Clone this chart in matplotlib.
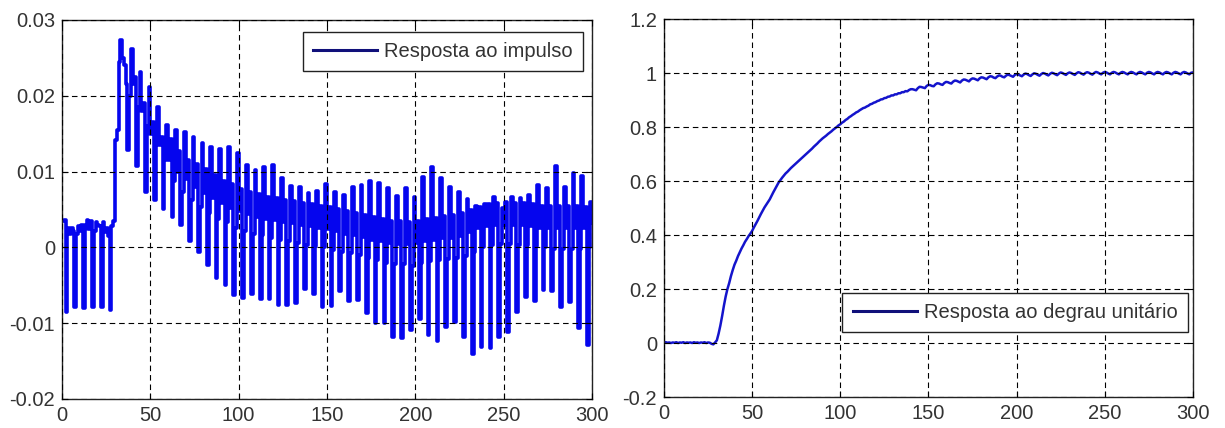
import numpy as np
import matplotlib
matplotlib.use("Agg")
import matplotlib.pyplot as plt

# sample index n = 0..300
n = np.arange(301)

# impulse response, in units of 1e-4
impulse_e4 = [
    35, 36, -85, 25, 18,   26, 22, -78, 18, 28,
    22, 30, -80, 29, 36,   24, 35, -78, 22, 33,
    30, 28, -79, 33, 20,   26, 15, -82, 28, 35,
    142, 155, 245, 273, 250,   240, 215, 128, 200, 262,
    215, 225, 108, 185, 232,   180, 190, 73, 160, 212,
    150, 165, 62, 135, 185,   135, 145, 50, 115, 162,
    115, 143, 40, 88, 155,   100, 127, 29, 73, 152,
    90, 115, 9, 63, 146,   80, 110, -6, 53, 138,
    72, 103, -23, 46, 133,   65, 95, -41, 38, 130,
    58, 87, -50, 33, 133,   52, 83, -63, 26, 124,
    48, 77, -67, 21, 109,   44, 73, -61, 18, 102,
    40, 70, -68, 16, 106,   38, 67, -68, 13, 109,
    36, 65, -76, 10, 91,   34, 63, -76, 8, 81,
    32, 61, -73, 6, 80,   30, 59, -55, 3, 72,
    28, 57, -62, 2, 75,   26, 55, -79, 0, 83,
    24, 53, -77, -4, 73,   22, 51, -58, -6, 69,
    18, 48, -71, -8, 80,   16, 45, -70, -10, 82,
    14, 43, -86, -14, 87,   10, 40, -100, -17, 85,
    8, 37, -100, -20, 79,   6, 35, -118, -22, 68,
    5, 35, -120, -22, 78,   5, 33, -109, -24, 66,
    6, 35, -95, -20, 93,   8, 37, -116, -18, 106,
    10, 39, -124, -17, 91,   12, 41, -105, -15, 80,
    13, 43, -98, -14, 73,   15, 45, -118, -12, 64,
    20, 49, -140, -6, 55,   25, 53, -131, 0, 57,
    28, 57, -133, 3, 66,   30, 59, -118, 4, 52,
    30, 60, -111, 4, 67,   30, 59, -85, 3, 65,
    30, 59, -65, 3, 69,   28, 57, -71, 2, 82,
    25, 55, -56, 0, 78,   25, 55, -58, -2, 107,
    25, 55, -78, -2, 80,   25, 55, -72, -2, 98,
    25, 55, -107, -2, 94,   25, 53, -129, 0, 60,
    32,
]

# unit step response, in units of 1e-3
step_e3 = [
    2, 3, 1, 2, 0, 2, 1, 3, 0, 2,
    1, 3, 0, 2, 1, 2, 0, 3, 1, 2,
    0, 2, 1, 3, 0, 2, 1, -3, -5, 2,
    10, 35, 65, 100, 138, 172, 200, 222, 248, 270,
    290, 305, 322, 336, 350, 362, 375, 385, 396, 405,
    415, 428, 440, 452, 465, 478, 490, 502, 512, 522,
    532, 545, 558, 570, 582, 594, 603, 612, 620, 628,
    634, 641, 648, 654, 660, 666, 672, 678, 684, 690,
    696, 702, 708, 714, 720, 727, 733, 739, 746, 752,
    758, 763, 768, 774, 779, 784, 790, 795, 800, 806,
    810, 816, 820, 826, 830, 836, 840, 845, 849, 854,
    857, 862, 866, 870, 872, 876, 879, 884, 886, 890,
    892, 896, 898, 902, 903, 907, 908, 912, 913, 917,
    917, 921, 921, 925, 925, 929, 929, 933, 932, 937,
    940, 940, 938, 936, 944, 949, 948, 946, 944, 952,
    956, 955, 952, 951, 958, 962, 961, 958, 956, 963,
    967, 966, 963, 961, 968, 972, 971, 968, 965, 972,
    976, 975, 972, 969, 976, 980, 979, 976, 973, 980,
    984, 983, 980, 977, 984, 988, 987, 983, 981, 987,
    991, 990, 986, 984, 990, 994, 992, 989, 986, 993,
    996, 994, 991, 988, 994, 998, 996, 992, 989, 995,
    999, 997, 993, 990, 996, 1000, 998, 994, 991, 997,
    1001, 999, 995, 992, 998, 1002, 1000, 996, 993, 999,
    1002, 1000, 996, 993, 999, 1003, 1001, 997, 994, 1000,
    1003, 1001, 997, 994, 1000, 1004, 1002, 998, 995, 1001,
    1004, 1002, 998, 995, 1001, 1004, 1002, 998, 995, 1001,
    1004, 1002, 998, 995, 1001, 1004, 1002, 998, 995, 1001,
    1004, 1002, 998, 995, 1001, 1004, 1002, 998, 995, 1001,
    1004, 1002, 998, 995, 1001, 1004, 1002, 998, 995, 1001,
    1004, 1002, 998, 995, 1001, 1004, 1002, 998, 995, 1001,
    1002,
]

impulse = np.array(impulse_e4) * 1e-4
step = np.array(step_e3) * 1e-3

xticks = [0, 50, 100, 150, 200, 250, 300]
yticks_imp = [-0.02, -0.01, 0, 0.01, 0.02, 0.03]
ylabels_imp = ["-0.02", "-0.01", "0", "0.01", "0.02", "0.03"]
yticks_step = [-0.2, 0, 0.2, 0.4, 0.6, 0.8, 1, 1.2]
ylabels_step = ["-0.2", "0", "0.2", "0.4", "0.6", "0.8", "1", "1.2"]

plt.rcParams['font.family'] = ['Liberation Sans', 'DejaVu Sans']
plt.rcParams['axes.unicode_minus'] = False

fig = plt.figure(figsize=(12.25, 4.28), dpi=100)
ax1 = fig.add_axes([0.0506, 0.0678, 0.4327, 0.8855])
ax2 = fig.add_axes([0.5420, 0.0724, 0.4318, 0.8832])

def style(ax, yticks, ylabels, ylim):
    ax.set_xlim(0, 300)
    ax.set_ylim(*ylim)
    ax.set_xticks(xticks)
    ax.set_xticklabels([str(t) for t in xticks])
    ax.set_yticks(yticks)
    ax.set_yticklabels(ylabels)
    ax.tick_params(direction='in', top=True, right=True, length=4, width=0.8,
                   labelsize=14.5, labelcolor='#333333', pad=5)
    ax.set_axisbelow(False)
    ax.grid(True, color='black', linewidth=0.8, linestyle=(0, (5, 3.5)))
    for s in ax.spines.values():
        s.set_linewidth(1.0)
        s.set_color('#222222')

def add_legend(ax, loc, anchor):
    leg = ax.legend(loc=loc, bbox_to_anchor=anchor, borderaxespad=0,
                    fontsize=14.5, fancybox=False, framealpha=1,
                    edgecolor='#222222', handlelength=3.2, handletextpad=0.35,
                    borderpad=0.5, labelcolor='#333333')
    leg.get_frame().set_linewidth(1.0)
    leg.get_lines()[0].set_color('#10107a')
    leg.get_lines()[0].set_linewidth(2.2)

ax1.plot(n, impulse, color='#0505ee', linewidth=2.6, drawstyle='steps-post',
         label='Resposta ao impulso')
style(ax1, yticks_imp, ylabels_imp, (-0.02, 0.03))
add_legend(ax1, 'upper right', (0.983, 0.968))

ax2.plot(n, step, color='#1414cc', linewidth=1.8, label='Resposta ao degrau unitário')
style(ax2, yticks_step, ylabels_step, (-0.2, 1.2))
add_legend(ax2, 'lower right', (0.9905, 0.172))

fig.savefig("out.png", dpi=100)
